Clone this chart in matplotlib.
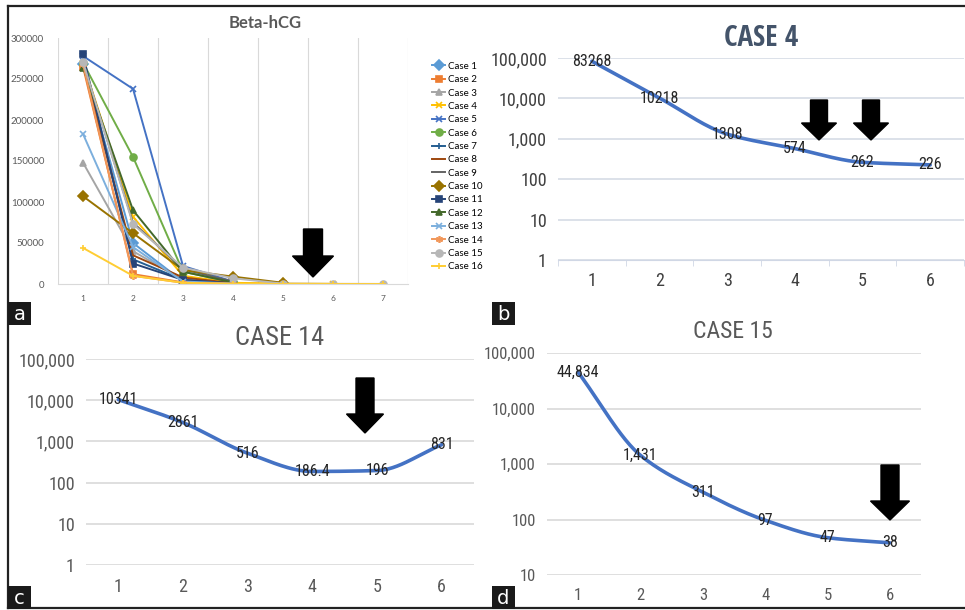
"""
Beta-hCG follow-up: overview of 16 cases (a) and log-scale curves for cases 4, 14, 15 (b-d).
"""

import numpy as np
import matplotlib
matplotlib.use('Agg')
import matplotlib.pyplot as plt
from matplotlib import font_manager as fm
from matplotlib.patches import Polygon, Rectangle
from matplotlib.lines import Line2D
from matplotlib.ticker import FuncFormatter, FixedLocator, NullLocator

W, H = 965, 610
nan = np.nan

# ── Panel a : all cases ───────────────────────────────────────────
A_VISITS = [1, 2, 3, 4, 5, 6, 7]
A_CASES = [f"Case {i}" for i in range(1, 17)]
A_VALUES = [
    [268000, 50000, 3000, 800, nan, nan, nan],
    [265000, 12000, 2000, 500, 200, nan, nan],
    [148000, 40000, 5000, 1000, nan, nan, nan],
    [270000, 82000, 10000, 1500, 500, 200, nan],
    [278000, 238000, 22000, 3000, nan, nan, nan],
    [270000, 155000, 15000, 2000, nan, nan, nan],
    [272000, 30000, 5000, 800, nan, nan, nan],
    [268000, 35000, 8000, 1000, nan, nan, nan],
    [270000, 75000, 18000, 3000, nan, nan, nan],
    [107000, 62000, 17000, 9000, 1500, nan, nan],
    [280000, 25000, 5000, 1000, nan, nan, nan],
    [264000, 90000, 15000, 2000, nan, nan, nan],
    [183000, 45000, 3000, 600, nan, nan, nan],
    [268000, 10000, 1500, 400, nan, nan, nan],
    [271000, 73000, 20000, 7000, 500, 200, 100],
    [44000, 10000, 1500, 300, 100, 50, 30],
]
A_COLORS = ["#5B9BD5", "#ED7D31", "#A5A5A5", "#FFC000", "#4472C4", "#70AD47",
            "#255E91", "#9E480E", "#636363", "#997300", "#264478", "#43682B",
            "#7CAFDD", "#F1975A", "#B7B7B7", "#FFCD33"]
A_MARKERS = ["D", "s", "^", "x", "x", "o", "+", None, None, "D", "s", "^",
             "x", (6, 2, 0), "o", "+"]

# ── Panels b, c, d : single cases on log scale ────────────────────
B_VISITS = [1, 2, 3, 4, 5, 6]
B_VALUES = [83268, 10218, 1308, 574, 262, 226]
B_LABELS = ["83268", "10218", "1308", "574", "262", "226"]

C_VISITS = [1, 2, 3, 4, 5, 6]
C_VALUES = [10341, 2861, 516, 186.4, 196, 831]
C_LABELS = ["10341", "2861", "516", "186.4", "196", "831"]

D_VISITS = [1, 2, 3, 4, 5, 6]
D_VALUES = [44834, 1431, 311, 97, 47, 38]
D_LABELS = ["44,834", "1,431", "311", "97", "47", "38"]

LINE_BLUE = "#4472C4"


def narrow_font(bold=False):
    """Look for a condensed sans face (Calibri-like look); fall back to DejaVu Sans."""
    want = 700 if bold else 400
    cands = [f for f in fm.fontManager.ttflist
             if (f.stretch in ("condensed", "semi-condensed")
                 or "Narrow" in f.name or "Condensed" in f.name
                 or "Condensed" in f.fname or "Narrow" in f.fname)
             and f.style == "normal"]
    if cands:
        pref = ["Liberation Sans Narrow", "Noto Sans", "Open Sans", "Roboto", "DejaVu Sans"]
        cands.sort(key=lambda f: (abs(int(f.weight) - want),
                                  next((i for i, p in enumerate(pref) if f.name.startswith(p)), 99)))
        return fm.FontProperties(fname=cands[0].fname), True
    return fm.FontProperties(family="DejaVu Sans", weight="bold" if bold else "normal"), False


NARROW, HAS_NARROW = narrow_font()
NARROW_B, _ = narrow_font(bold=True)
SCALE = 1.0 if HAS_NARROW else 0.8


def fp(base, size):
    p = base.copy()
    p.set_size(size * SCALE)
    return p


def px_axes(fig, left, top, right, bottom):
    return fig.add_axes([left / W, 1 - bottom / H, (right - left) / W, (bottom - top) / H])


def fig_text(fig, x, y, s, **kw):
    fig.text(x / W, 1 - y / H, s, **kw)


def down_arrow(fig, cx, top, head_y, tip, shaft_w, head_w):
    pts = [(cx - shaft_w / 2, top), (cx + shaft_w / 2, top), (cx + shaft_w / 2, head_y),
           (cx + head_w / 2, head_y), (cx, tip), (cx - head_w / 2, head_y),
           (cx - shaft_w / 2, head_y)]
    pts = [(x / W, 1 - y / H) for x, y in pts]
    fig.patches.append(Polygon(pts, closed=True, transform=fig.transFigure,
                               facecolor="black", edgecolor="black", zorder=10))


def panel_tag(fig, x, y, letter):
    fig.patches.append(Rectangle((x / W, 1 - (y + 23) / H), 23 / W, 23 / H,
                                 transform=fig.transFigure, facecolor="#1a1a1a",
                                 edgecolor="none", zorder=10))
    fig_text(fig, x + 11.5, y + 12, letter, color="white", fontsize=14,
             ha="center", va="center", family=["DejaVu Sans"], zorder=11)


def smooth(xs, ys, n=30):
    # monotone cubic (PCHIP) through the points, in log space
    x = np.asarray(xs, float)
    y = np.log10(np.asarray(ys, float))
    h = np.diff(x)
    d = np.diff(y) / h
    m = np.zeros_like(y)
    for k in range(1, len(y) - 1):
        if d[k - 1] * d[k] > 0:
            m[k] = 2 / (1 / d[k - 1] + 1 / d[k])
    m[0], m[-1] = d[0], d[-1]
    out_x, out_y = [], []
    for k in range(len(x) - 1):
        t = np.linspace(0, 1, n)
        h00 = 2 * t ** 3 - 3 * t ** 2 + 1
        h10 = t ** 3 - 2 * t ** 2 + t
        h01 = -2 * t ** 3 + 3 * t ** 2
        h11 = t ** 3 - t ** 2
        out_x.extend(x[k] + t * h[k])
        out_y.extend(h00 * y[k] + h10 * h[k] * m[k] + h01 * y[k + 1] + h11 * h[k] * m[k + 1])
    return np.array(out_x), 10 ** np.array(out_y)


def log_panel(ax, visits, values, labels, ymin, grid_color, tick_color, tick_size,
              axis_ticks=False):
    ax.set_yscale("log")
    ax.set_ylim(ymin, 100000)
    ax.set_xlim(0.5, len(visits) + 0.5)
    sx, sy = smooth(visits, values)
    ax.plot(sx, sy, color=LINE_BLUE, lw=2.6, solid_capstyle="round", zorder=3)
    for x, v, s in zip(visits, values, labels):
        ax.text(x, v, s, ha="center", va="center", color="#262626",
                fontproperties=fp(NARROW, 11.5), zorder=4)
    decades = [10 ** k for k in range(int(np.log10(ymin)), 6)]
    ax.yaxis.set_major_locator(FixedLocator(decades))
    ax.yaxis.set_minor_locator(NullLocator())
    ax.yaxis.set_major_formatter(FuncFormatter(lambda v, _: f"{int(round(v)):,}"))
    ax.set_xticks(visits)
    ax.grid(axis="y", color=grid_color, lw=1.2)
    for sp in ax.spines.values():
        sp.set_visible(False)
    ax.tick_params(axis="y", length=0, labelcolor=tick_color, pad=8)
    ax.tick_params(axis="x", length=0, labelcolor=tick_color, pad=9)
    for lab in ax.get_xticklabels() + ax.get_yticklabels():
        lab.set_fontproperties(fp(NARROW, tick_size))
    if axis_ticks:
        ax.spines["bottom"].set_visible(True)
        ax.spines["bottom"].set_color("#D0D7E5")
        ax.set_xticks(np.arange(0.5, len(visits) + 1), minor=True)
        ax.tick_params(axis="x", which="minor", length=4, color="#D0D7E5", direction="out")
    ax.set_facecolor("none")


fig = plt.figure(figsize=(W / 100, H / 100), dpi=100)

# frame
for (x0, y0, x1, y1) in [(8, 6, 965, 6), (8, 6, 8, 608), (8, 608, 965, 608)]:
    fig.lines.append(Line2D([x0 / W, x1 / W], [1 - y0 / H, 1 - y1 / H], color="#222222",
                            lw=1.6, transform=fig.transFigure))

# ── a ──
ax_a = px_axes(fig, 58, 38, 408, 284)
for name, vals, col, mk in zip(A_CASES, A_VALUES, A_COLORS, A_MARKERS):
    ax_a.plot(A_VISITS, vals, color=col, lw=1.4, marker=mk, markersize=5,
              markeredgewidth=1.2, label=name)
ax_a.set_xlim(0.5, 7.5)
ax_a.set_ylim(0, 300000)
ax_a.set_xticks(A_VISITS)
ax_a.set_yticks(np.arange(0, 300001, 50000))
ax_a.set_xticks(np.arange(0.5, 8), minor=True)
ax_a.grid(axis="x", which="minor", color="#D9D9D9", lw=0.8)
for sp in ["top", "right", "left"]:
    ax_a.spines[sp].set_visible(False)
ax_a.spines["bottom"].set_color("#D9D9D9")
ax_a.tick_params(which="both", length=0)
ax_a.tick_params(axis="y", labelsize=7, labelcolor="#595959", pad=10)
ax_a.tick_params(axis="x", labelsize=6, labelcolor="#595959", pad=8)
for lab in ax_a.get_xticklabels() + ax_a.get_yticklabels():
    lab.set_family(["Lato", "DejaVu Sans"])
fig_text(fig, 265, 23, "Beta-hCG", fontsize=12, fontweight="bold", color="#595959",
         ha="center", va="center", family=["Lato", "DejaVu Sans"])
ax_a.legend(loc="upper left", bbox_to_anchor=(423 / W, 1 - 53 / H),
            bbox_transform=fig.transFigure, frameon=False,
            handlelength=1.4, handletextpad=0.3, labelspacing=0.45,
            prop={"family": ["Lato", "DejaVu Sans"], "size": 7})
down_arrow(fig, 313, 229, 256, 277, 19, 41)
panel_tag(fig, 8, 302, "a")

# ── b ──
ax_b = px_axes(fig, 558, 58, 964, 260)
log_panel(ax_b, B_VISITS, B_VALUES, B_LABELS, 1, "#D6DCE5", "#404040", 13, axis_ticks=True)
fig_text(fig, 761, 38, "CASE 4", color="#44546A", ha="center", va="center",
         fontproperties=fp(NARROW_B, 21))
down_arrow(fig, 819, 100, 123, 140, 17, 35)
down_arrow(fig, 871, 100, 123, 140, 17, 35)
panel_tag(fig, 492, 302, "b")

# ── c ──
ax_c = px_axes(fig, 86, 359, 474, 565)
log_panel(ax_c, C_VISITS, C_VALUES, C_LABELS, 1, "#D9D9D9", "#595959", 13)
fig_text(fig, 280, 338, "CASE 14", color="#595959", ha="center", va="center",
         fontproperties=fp(NARROW, 19))
down_arrow(fig, 365, 378, 414, 433, 18, 37)
panel_tag(fig, 8, 586, "c")

# ── d ──
ax_d = px_axes(fig, 547, 353, 921, 575)
log_panel(ax_d, D_VISITS, D_VALUES, D_LABELS, 10, "#D9D9D9", "#595959", 12)
fig_text(fig, 733, 331, "CASE 15", color="#595959", ha="center", va="center",
         fontproperties=fp(NARROW, 17))
down_arrow(fig, 890, 465, 501, 520, 18, 39)
panel_tag(fig, 492, 586, "d")

fig.savefig("out.png", dpi=100)
